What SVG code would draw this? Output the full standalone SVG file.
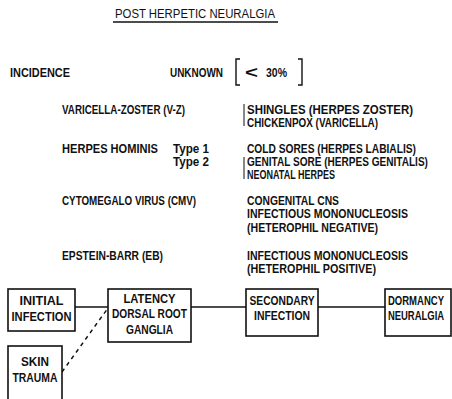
<svg xmlns="http://www.w3.org/2000/svg" width="452" height="399" viewBox="0 0 452 399">
<style>
text{font-family:"Liberation Sans Narrow","Liberation Sans",Arial,sans-serif;font-size:12px;font-weight:bold;fill:#111;}
.box{fill:#fff;stroke:#111;stroke-width:1.6;}
.ln{stroke:#111;stroke-width:1.4;fill:none;}
.c{text-anchor:middle;}
</style>
<rect width="452" height="399" fill="#fff"/>
<g id="title">
<text x="115" y="18" textLength="160" lengthAdjust="spacingAndGlyphs" style="font-weight:normal">POST HERPETIC NEURALGIA</text>
<line class="ln" x1="113" y1="22" x2="278" y2="22"/>
</g>
<g id="incidence">
<text x="10" y="77" textLength="60" lengthAdjust="spacingAndGlyphs">INCIDENCE</text>
<text x="170" y="77" textLength="53" lengthAdjust="spacingAndGlyphs">UNKNOWN</text>
<path class="ln" d="M240 59 H236 V85 H240"/>
<text x="245" y="78" textLength="13" lengthAdjust="spacingAndGlyphs" style="font-size:17px">&lt;</text>
<text x="266" y="77" textLength="21" lengthAdjust="spacingAndGlyphs">30%</text>
<path class="ln" d="M298 59 H302 V85 H298"/>
</g>
<g id="viruses">
<text x="62" y="114" textLength="123" lengthAdjust="spacingAndGlyphs">VARICELLA-ZOSTER  (V-Z)</text>
<text x="62" y="153" textLength="96" lengthAdjust="spacingAndGlyphs">HERPES HOMINIS</text>
<text x="173" y="153" textLength="36" lengthAdjust="spacingAndGlyphs">Type 1</text>
<text x="173" y="166" textLength="36" lengthAdjust="spacingAndGlyphs">Type 2</text>
<text x="62" y="205" textLength="134" lengthAdjust="spacingAndGlyphs">CYTOMEGALO VIRUS  (CMV)</text>
<text x="62" y="260" textLength="101" lengthAdjust="spacingAndGlyphs">EPSTEIN-BARR  (EB)</text>
</g>
<g id="diseases">
<path class="ln" d="M244 104 V126" style="stroke-width:1"/>
<text x="247" y="114" textLength="166" lengthAdjust="spacingAndGlyphs">SHINGLES  (HERPES ZOSTER)</text>
<text x="247" y="127" textLength="131" lengthAdjust="spacingAndGlyphs">CHICKENPOX  (VARICELLA)</text>
<text x="247" y="153" textLength="169" lengthAdjust="spacingAndGlyphs">COLD SORES  (HERPES LABIALIS)</text>
<path class="ln" d="M244 157 V179" style="stroke-width:1"/>
<text transform="translate(247,166) scale(0.78,1)" x="0" y="0" textLength="232" lengthAdjust="spacingAndGlyphs">GENITAL SORE  (HERPES GENITALIS)</text>
<text x="247" y="179" textLength="88" lengthAdjust="spacingAndGlyphs">NEONATAL HERPES</text>
<text x="247" y="205" textLength="92" lengthAdjust="spacingAndGlyphs">CONGENITAL  CNS</text>
<text x="247" y="218" textLength="161" lengthAdjust="spacingAndGlyphs">INFECTIOUS MONONUCLEOSIS</text>
<text x="247" y="232" textLength="131" lengthAdjust="spacingAndGlyphs">(HETEROPHIL NEGATIVE)</text>
<text x="247" y="260" textLength="161" lengthAdjust="spacingAndGlyphs">INFECTIOUS MONONUCLEOSIS</text>
<text x="247" y="273" textLength="129" lengthAdjust="spacingAndGlyphs">(HETEROPHIL POSITIVE)</text>
</g>
<g id="connectors">
<line class="ln" x1="75" y1="307" x2="108" y2="307"/>
<line class="ln" x1="191" y1="307" x2="246" y2="307"/>
<line class="ln" x1="318" y1="307" x2="385" y2="307"/>
<line class="ln" x1="62" y1="372" x2="108" y2="308" stroke-dasharray="4,4"/>
</g>
<g id="initial">
<rect class="box" x="8" y="289" width="67" height="42"/>
<text class="c" x="41.5" y="305" textLength="44" lengthAdjust="spacingAndGlyphs">INITIAL</text>
<text class="c" x="41.5" y="321" textLength="60" lengthAdjust="spacingAndGlyphs">INFECTION</text>
</g>
<g id="latency">
<rect class="box" x="108" y="289" width="83" height="53"/>
<text class="c" x="149.5" y="303" textLength="52" lengthAdjust="spacingAndGlyphs">LATENCY</text>
<text class="c" x="149.5" y="318" textLength="75" lengthAdjust="spacingAndGlyphs">DORSAL ROOT</text>
<text class="c" x="149.5" y="334" textLength="47" lengthAdjust="spacingAndGlyphs">GANGLIA</text>
</g>
<g id="secondary">
<rect class="box" x="246" y="289" width="72" height="47"/>
<text class="c" x="282" y="305" textLength="65" lengthAdjust="spacingAndGlyphs">SECONDARY</text>
<text class="c" x="282" y="320" textLength="56" lengthAdjust="spacingAndGlyphs">INFECTION</text>
</g>
<g id="dormancy">
<rect class="box" x="385" y="289" width="66" height="47"/>
<text class="c" transform="translate(416,305) scale(0.78,1)" x="0" y="0" textLength="72" lengthAdjust="spacingAndGlyphs">DORMANCY</text>
<text class="c" transform="translate(416,320) scale(0.78,1)" x="0" y="0" textLength="72" lengthAdjust="spacingAndGlyphs">NEURALGIA</text>
</g>
<g id="skin">
<rect class="box" x="8" y="346" width="54" height="56"/>
<text class="c" x="35" y="366" textLength="28" lengthAdjust="spacingAndGlyphs">SKIN</text>
<text class="c" x="35" y="382" textLength="45" lengthAdjust="spacingAndGlyphs">TRAUMA</text>
</g>
</svg>
